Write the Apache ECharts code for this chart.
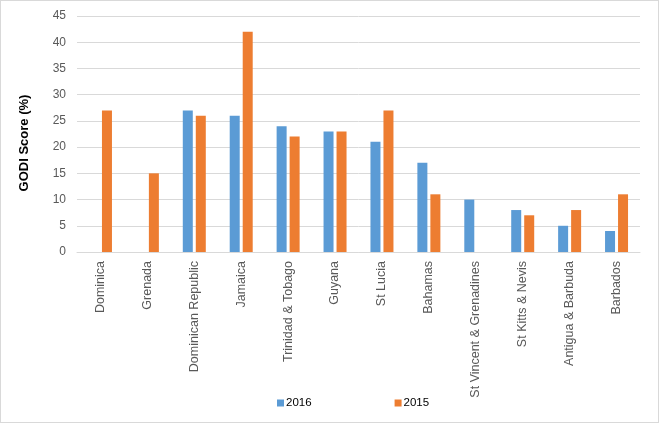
<!DOCTYPE html>
<html>
<head>
<meta charset="utf-8">
<script src="https://cdn.jsdelivr.net/npm/echarts@6/dist/echarts.min.js"></script>
<style>
html,body{margin:0;padding:0;background:#fff;}
#c{width:659px;height:423px;box-sizing:border-box;border:1px solid #d9d9d9;}
</style>
</head>
<body>
<div id="c"></div>
<script>
const categories = ["Dominica","Grenada","Dominican Republic","Jamaica","Trinidad & Tobago","Guyana","St Lucia","Bahamas","St Vincent & Grenadines","St Kitts & Nevis","Antigua & Barbuda","Barbados"];
const values2016 = [0,0,27,26,24,23,21,17,10,8,5,4];
const values2015 = [27,15,26,42,22,23,27,11,0,7,8,11];
const yTicks = {min:0, max:45, interval:5};

const font = "Liberation Sans";
const chart = echarts.init(document.getElementById('c'));
chart.setOption({
  animation:false,
  textStyle:{fontFamily:font},
  grid:{left:76, right:18, top:15, bottom:170},
  legend:{
    left:276, top:396, padding:0, itemWidth:7, itemHeight:7, itemGap:83,
    icon:'rect',
    textStyle:{fontFamily:font, fontSize:11.5, color:'#000', padding:[0,0,0,-3]},
    data:['2016','2015']
  },
  xAxis:{
    type:'category', data:categories,
    axisLine:{lineStyle:{color:'#d9d9d9'}},
    axisTick:{show:false},
    axisLabel:{rotate:90, interval:0, fontSize:12.5, color:'#595959', margin:9, fontFamily:font}
  },
  yAxis:{
    type:'value', min:yTicks.min, max:yTicks.max, interval:yTicks.interval,
    name:'GODI Score (%)', nameLocation:'middle', nameRotate:90, nameGap:46,
    nameTextStyle:{fontFamily:font, fontSize:13, fontWeight:'bold', color:'#000', padding:[0,18,0,0]},
    axisLine:{show:false}, axisTick:{show:false},
    axisLabel:{fontSize:12, color:'#595959', margin:11, fontFamily:font},
    splitLine:{lineStyle:{color:'#d9d9d9'}}
  },
  series:[
    {name:'2016', type:'bar', data:values2016, itemStyle:{color:'#5b9bd5'}, barWidth:10, barGap:'30%'},
    {name:'2015', type:'bar', data:values2015, itemStyle:{color:'#ed7d31'}, barWidth:10, barGap:'30%'}
  ]
});
</script>
</body>
</html>
